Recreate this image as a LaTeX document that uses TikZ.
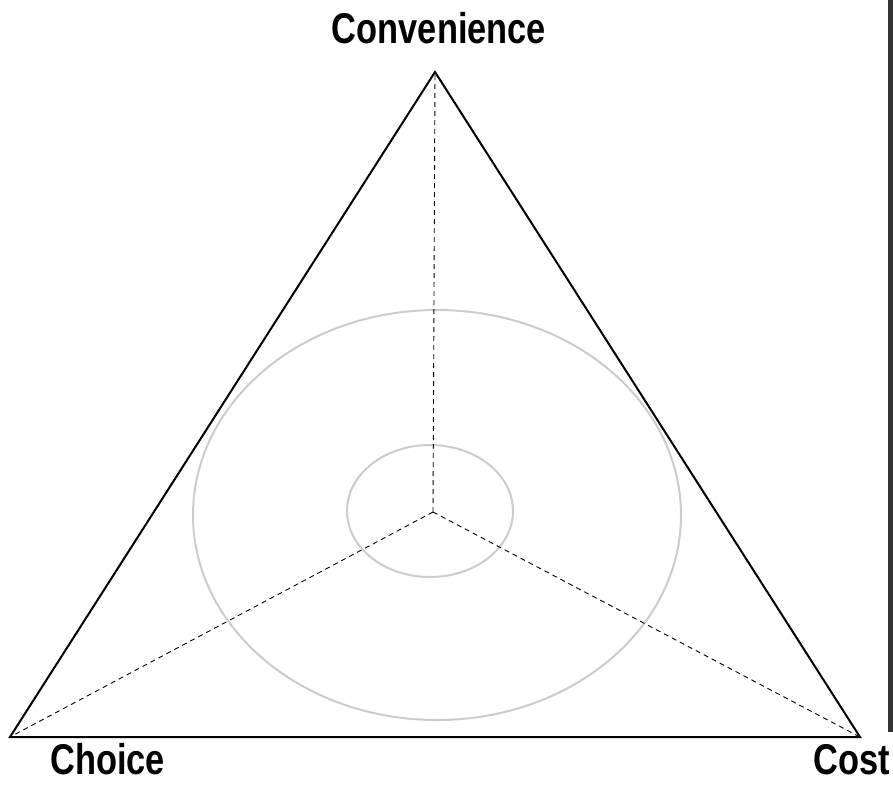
\documentclass[tikz,border=0pt]{standalone}
\usepackage{fontspec}
\newfontfamily\lblfont[FakeStretch=0.8]{Liberation Sans}
\begin{document}
\begin{tikzpicture}[x=1pt,y=-1pt,
  lbl/.style={font=\lblfont\bfseries\fontsize{43}{43}\selectfont, inner sep=0pt, text=black},
  side/.style={line width=2pt, black, line join=miter},
  spoke/.style={line width=0.9pt, black, dash pattern=on 5pt off 4pt},
  ring/.style={line width=2pt, black!20}]
\useasboundingbox (0,0) rectangle (893,785);
\coordinate (T) at (435,72);
\coordinate (L) at (10,737);
\coordinate (R) at (860,737);
\coordinate (C) at (433,512);
\draw[ring] (437,515) ellipse [x radius=244, y radius=205];
\draw[ring] (430,511) ellipse [x radius=83, y radius=66];
\draw[spoke] (C) -- (T);
\draw[spoke] (C) -- (L);
\draw[spoke] (C) -- (R);
\draw[side] (T) -- (L) -- (R) -- cycle;
\node[lbl, anchor=base] (conv) at (439,43) {Convenience};
\node[lbl, anchor=base west] (choice) at (50,774) {Choice};
\node[lbl, anchor=base west] (cost) at (813,774) {Cost};
\draw[line width=5pt, black!80] (890,0) -- (890,732);
\end{tikzpicture}
\end{document}
